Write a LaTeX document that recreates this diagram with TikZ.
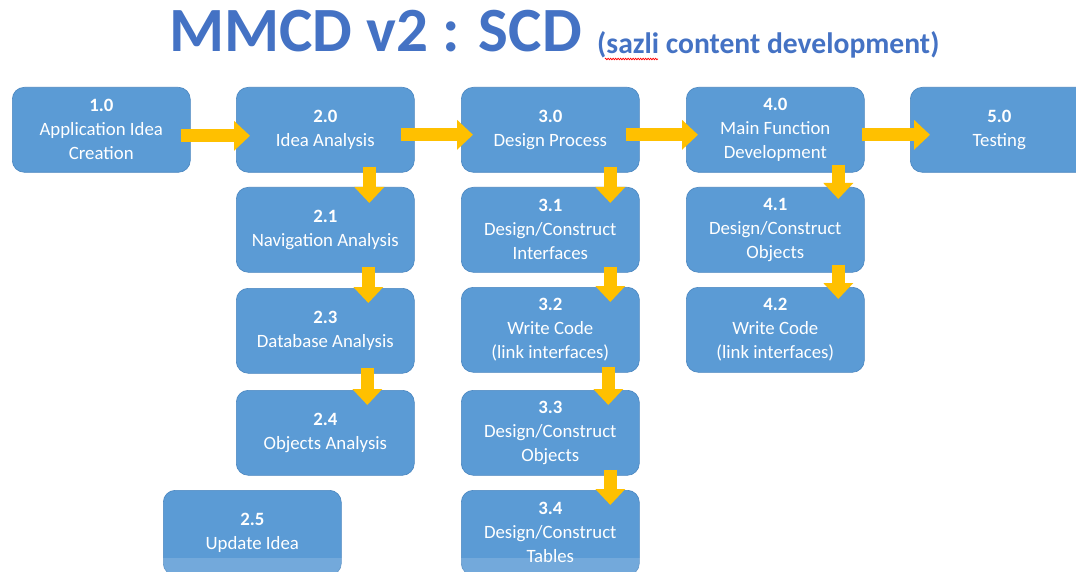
\documentclass[tikz,border=0pt]{standalone}
\usepackage{fontspec}
\setmainfont{Carlito}
\usetikzlibrary{calc,arrows.meta,decorations.pathmorphing}
\definecolor{boxblue}{HTML}{5B9BD5}
\definecolor{boxedge}{HTML}{4A86C0}
\definecolor{arrowyel}{HTML}{FFC000}
\definecolor{titleblue}{HTML}{4472C4}
\tikzset{
  stepbox/.style={draw=boxedge, line width=0.6pt, fill=boxblue, rounded corners=12pt,
    minimum width=178pt, minimum height=85pt, anchor=north west, inner sep=0pt,
    align=center, text=white, font=\fontsize{18.8}{24}\selectfont},
  arr/.style={draw=arrowyel, line width=13pt,
    -{Triangle[width=29pt,length=16pt]}, fill=arrowyel},
}
\begin{document}
\begin{tikzpicture}[x=1pt,y=-1pt]
\useasboundingbox (0,0) rectangle (1076,572);
\fill[white] (0,0) rectangle (1076,572);
\begin{scope}
\clip (0,0) rectangle (1076,572);
% title
\node[anchor=base west, inner sep=0pt, text=titleblue, font=\fontsize{63}{63}\selectfont\bfseries] (title) at (169,52) {MMCD v2 : SCD};
\node[anchor=base west, inner sep=0pt, text=titleblue, font=\fontsize{29.6}{29.6}\selectfont\bfseries] (sub) at (597,54) {(sazli content development)};
\draw[red, line width=0.7pt, decorate, decoration={zigzag, amplitude=0.8pt, segment length=2.5pt}] (605,59) -- (658,59);

% boxes
\node[stepbox] (n10) at (12,87)  {\textbf{1.0}\\Application Idea\\Creation};
\node[stepbox] (n20) at (236,87) {\textbf{2.0}\\Idea Analysis};
\node[stepbox] (n30) at (461,87) {\textbf{3.0}\\Design Process};
\node[stepbox] (n40) at (686,87) {\textbf{4.0}\\Main Function\\Development};
\node[stepbox] (n50) at (910,87) {\textbf{5.0}\\Testing};

\node[stepbox] (n21) at (236,187) {\textbf{2.1}\\Navigation Analysis};
\node[stepbox] (n23) at (236,288) {\textbf{2.3}\\Database Analysis};
\node[stepbox] (n24) at (236,390) {\textbf{2.4}\\Objects Analysis};
\node[stepbox] (n25) at (163,490) {\textbf{2.5}\\Update Idea};

\node[stepbox] (n31) at (461,187) {\textbf{3.1}\\Design/Construct\\Interfaces};
\node[stepbox] (n32) at (461,287) {\textbf{3.2}\\Write Code\\(link interfaces)};
\node[stepbox] (n33) at (461,390) {\textbf{3.3}\\Design/Construct\\Objects};
\node[stepbox] (n34) at (461,490) {\textbf{3.4}\\Design/Construct\\Tables};

\node[stepbox] (n41) at (686,187) {\textbf{4.1}\\Design/Construct\\Objects};
\node[stepbox] (n42) at (686,287) {\textbf{4.2}\\Write Code\\(link interfaces)};

% horizontal arrows
\draw[arr] ($(n10.east)+(-10,6)$) -- ($(n20.west)+(14,6)$);
\draw[arr] ($(n20.east)+(-14,5)$) -- ($(n30.west)+(12,5)$);
\draw[arr] ($(n30.east)+(-14,5)$) -- ($(n40.west)+(12,5)$);
\draw[arr] ($(n40.east)+(-3,5)$) -- ($(n50.west)+(20,5)$);

% vertical arrows
\draw[arr] ($(n20.south)+(44,-6)$) -- ($(n21.north)+(44,16)$);
\draw[arr] ($(n21.south)+(43,-6)$) -- ($(n23.north)+(43,15)$);
\draw[arr] ($(n23.south)+(42,-6)$) -- ($(n24.north)+(42,15)$);

\draw[arr] ($(n30.south)+(60,-6)$) -- ($(n31.north)+(60,16)$);
\draw[arr] ($(n31.south)+(60,-6)$) -- ($(n32.north)+(60,15)$);
\draw[arr] ($(n32.south)+(58,-6)$) -- ($(n33.north)+(58,15)$);
\draw[arr] ($(n33.south)+(60,-6)$) -- ($(n34.north)+(60,15)$);

\draw[arr] ($(n40.south)+(63,-8)$) -- ($(n41.north)+(63,12)$);
\draw[arr] ($(n41.south)+(63,-8)$) -- ($(n42.north)+(63,12)$);

% faint bottom band
\fill[white, opacity=0.15] (0,558) rectangle (1076,572);
\end{scope}
\end{tikzpicture}
\end{document}
